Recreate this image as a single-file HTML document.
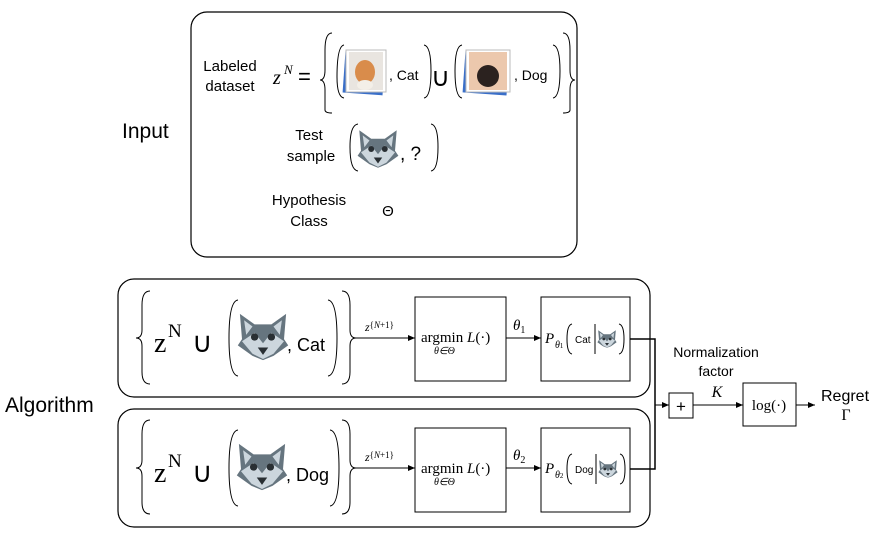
<!DOCTYPE html>
<html><head><meta charset="utf-8"><style>
html,body{margin:0;padding:0;background:#fff}
svg{display:block}
text{font-family:"Liberation Sans",sans-serif;fill:#000}
.m{font-family:"Liberation Serif",serif}
</style></head><body>
<svg width="880" height="537" viewBox="0 0 880 537" xmlns="http://www.w3.org/2000/svg">
<defs>
<marker id="ar" markerWidth="8" markerHeight="8" refX="7" refY="4" orient="auto" markerUnits="userSpaceOnUse"><path d="M0,1 L7,4 L0,7z" fill="#000"/></marker>
<g id="wolf">
<path d="M-22,-22 L-8,-12 L8,-12 L22,-22 L20,2 L24,8 L10,18 L0,22 L-10,18 L-24,8 L-20,2z" fill="#66757f"/>
<path d="M-18,-16 L-10,-10 L-16,-2z M18,-16 L10,-10 L16,-2z" fill="#ccd6dd"/>
<path d="M-20,4 L-8,-4 L0,6 L8,-4 L20,4 L10,16 L0,21 L-10,16z" fill="#ccd6dd"/>
<circle cx="-8" cy="0" r="3.5" fill="#292f33"/><circle cx="8" cy="0" r="3.5" fill="#292f33"/>
<path d="M-5,10 L5,10 L0,17z" fill="#292f33"/>
</g>
</defs>

<!-- Input -->
<rect x="191" y="12" width="386" height="245" rx="16" fill="none" stroke="#000" stroke-width="1.2"/>
<text x="122" y="138" font-size="21">Input</text>
<text x="230" y="71" font-size="15" text-anchor="middle">Labeled</text>
<text x="230" y="91" font-size="15" text-anchor="middle">dataset</text>
<text x="273" y="84" font-size="20" class="m" font-style="italic">z</text>
<text x="284" y="74" font-size="13" class="m" font-style="italic">N</text>
<text x="298" y="84" font-size="22">=</text>
<path d="M332,33 Q325,33 325,50 L325,70 Q325,80 320,80 Q325,80 325,90 L325,110 Q325,113 332,113" fill="none" stroke="#000"/>
<path d="M344,45 Q337,46 337,77 Q337,97 344,98" fill="none" stroke="#000"/>
<rect x="344" y="52" width="40" height="42" fill="#3a6fc9" transform="rotate(4 364 73)"/>
<rect x="346" y="50" width="40" height="42" fill="#fff" stroke="#bbb"/>
<rect x="349" y="52" width="34" height="38" fill="#e9e5e0"/>
<ellipse cx="365" cy="72" rx="10" ry="12" fill="#d98c4b"/>
<ellipse cx="365" cy="85" rx="8" ry="5" fill="#f3efe8"/>
<text x="389" y="80" font-size="14">, Cat</text>
<path d="M424,45 Q431,46 431,71 Q431,97 424,98" fill="none" stroke="#000"/>
<text x="431" y="86" font-size="26">∪</text>
<path d="M462,45 Q455,46 455,71 Q455,97 462,98" fill="none" stroke="#000"/>
<rect x="464" y="52" width="44" height="42" fill="#3a6fc9" transform="rotate(4 486 73)"/>
<rect x="466" y="50" width="44" height="42" fill="#fff" stroke="#bbb"/>
<rect x="469" y="52" width="38" height="38" fill="#ecc8ad"/>
<ellipse cx="488" cy="76" rx="11" ry="11" fill="#2b221f"/>
<text x="514" y="80" font-size="14">, Dog</text>
<path d="M553,45 Q560,46 560,71 Q560,97 553,98" fill="none" stroke="#000"/>
<path d="M563,33 Q570,33 570,50 L570,70 Q570,80 575,80 Q570,80 570,90 L570,110 Q570,113 563,113" fill="none" stroke="#000"/>
<text x="309" y="140" font-size="15" text-anchor="middle">Test</text>
<text x="311" y="161" font-size="15" text-anchor="middle">sample</text>
<path d="M358,124 Q350,125 350,147 Q350,170 358,171" fill="none" stroke="#000"/>
<use href="#wolf" transform="translate(378,149) scale(0.85)"/>
<text x="400" y="160" font-size="19">, ?</text>
<path d="M431,124 Q438,125 438,147 Q438,170 431,171" fill="none" stroke="#000"/>
<text x="309" y="205" font-size="15" text-anchor="middle">Hypothesis</text>
<text x="309" y="226" font-size="15" text-anchor="middle">Class</text>
<text x="388" y="216" font-size="15" text-anchor="middle">Θ</text>

<!-- Algorithm -->
<text x="5" y="412" font-size="21">Algorithm</text>
<rect x="118" y="279" width="532" height="118" rx="16" fill="none" stroke="#000" stroke-width="1.2"/>
<rect x="118" y="409" width="532" height="118" rx="16" fill="none" stroke="#000" stroke-width="1.2"/>

<g>
<path d="M150,291 Q142,291 142,305 L142,330 Q142,338 136,338 Q142,338 142,346 L142,372 Q142,384 150,384" fill="none" stroke="#000"/>
<text x="154" y="352" font-size="28" class="m">z</text>
<text x="168" y="337" font-size="19" class="m">N</text>
<text x="192" y="352" font-size="28">∪</text>
<path d="M238,300 Q229,301 229,338 Q229,375 238,376" fill="none" stroke="#000"/>
<use href="#wolf" transform="translate(263,337) scale(1.05)"/>
<text x="287" y="351" font-size="18">, Cat</text>
<path d="M328,300 Q337,301 337,338 Q337,375 328,376" fill="none" stroke="#000"/>
<path d="M342,291 Q350,291 350,305 L350,330 Q350,338 356,338 Q350,338 350,346 L350,372 Q350,384 342,384" fill="none" stroke="#000"/>
<line x1="356" y1="338" x2="415" y2="338" stroke="#000" marker-end="url(#ar)"/>
<text x="365" y="331" font-size="12" class="m" font-style="italic">z<tspan font-size="9" dy="-3" font-style="normal">{<tspan font-style="italic">N</tspan>+1}</tspan></text>
<rect x="415" y="297" width="91" height="84" fill="none" stroke="#000"/>
<text x="421" y="342" font-size="15" class="m">argmin <tspan font-style="italic">L</tspan>(·)</text>
<text x="434" y="354" font-size="10" class="m" font-style="italic">θ∈Θ</text>
<line x1="506" y1="338" x2="541" y2="338" stroke="#000" marker-end="url(#ar)"/>
<text x="513" y="330" font-size="15" class="m" font-style="italic">θ<tspan font-size="10" font-style="normal" dy="3">1</tspan></text>
<rect x="541" y="297" width="89" height="84" fill="none" stroke="#000"/>
<text x="545" y="343" font-size="15" class="m" font-style="italic">P</text>
<text x="555" y="348" font-size="10" class="m" font-style="italic">θ<tspan font-size="7" font-style="normal">1</tspan></text>
<path d="M572,324 Q567,325 567,339 Q567,353 572,354" fill="none" stroke="#000"/>
<text x="575" y="343" font-size="10">Cat</text>
<line x1="595" y1="324" x2="595" y2="354" stroke="#000"/>
<use href="#wolf" transform="translate(607,339) scale(0.4)"/>
<path d="M619,324 Q624,325 624,339 Q624,353 619,354" fill="none" stroke="#000"/>
</g>

<g>
<path d="M150,420 Q142,420 142,434 L142,460 Q142,468 136,468 Q142,468 142,476 L142,502 Q142,514 150,514" fill="none" stroke="#000"/>
<text x="154" y="482" font-size="28" class="m">z</text>
<text x="168" y="467" font-size="19" class="m">N</text>
<text x="192" y="482" font-size="28">∪</text>
<path d="M238,430 Q229,431 229,468 Q229,505 238,506" fill="none" stroke="#000"/>
<use href="#wolf" transform="translate(262,467) scale(1.05)"/>
<text x="286" y="481" font-size="18">, Dog</text>
<path d="M330,430 Q339,431 339,468 Q339,505 330,506" fill="none" stroke="#000"/>
<path d="M342,420 Q350,420 350,434 L350,460 Q350,468 356,468 Q350,468 350,476 L350,502 Q350,514 342,514" fill="none" stroke="#000"/>
<line x1="356" y1="468" x2="415" y2="468" stroke="#000" marker-end="url(#ar)"/>
<text x="365" y="461" font-size="12" class="m" font-style="italic">z<tspan font-size="9" dy="-3" font-style="normal">{<tspan font-style="italic">N</tspan>+1}</tspan></text>
<rect x="415" y="428" width="91" height="84" fill="none" stroke="#000"/>
<text x="421" y="473" font-size="15" class="m">argmin <tspan font-style="italic">L</tspan>(·)</text>
<text x="434" y="485" font-size="10" class="m" font-style="italic">θ∈Θ</text>
<line x1="506" y1="468" x2="541" y2="468" stroke="#000" marker-end="url(#ar)"/>
<text x="513" y="460" font-size="15" class="m" font-style="italic">θ<tspan font-size="10" font-style="normal" dy="3">2</tspan></text>
<rect x="541" y="428" width="89" height="84" fill="none" stroke="#000"/>
<text x="545" y="473" font-size="15" class="m" font-style="italic">P</text>
<text x="555" y="478" font-size="10" class="m" font-style="italic">θ<tspan font-size="7" font-style="normal">2</tspan></text>
<path d="M572,454 Q567,455 567,469 Q567,483 572,484" fill="none" stroke="#000"/>
<text x="575" y="473" font-size="10">Dog</text>
<line x1="596" y1="454" x2="596" y2="484" stroke="#000"/>
<use href="#wolf" transform="translate(608,469) scale(0.4)"/>
<path d="M620,454 Q625,455 625,469 Q625,483 620,484" fill="none" stroke="#000"/>
</g>

<!-- combine -->
<polyline points="630,339 655,339 655,469 630,469" fill="none" stroke="#000" stroke-width="1.5"/>
<line x1="655" y1="405" x2="669" y2="405" stroke="#000" marker-end="url(#ar)"/>
<rect x="669" y="393" width="24" height="25" fill="none" stroke="#000"/>
<text x="681" y="412" font-size="17" text-anchor="middle">+</text>
<line x1="693" y1="405" x2="743" y2="405" stroke="#000" marker-end="url(#ar)"/>
<text x="716" y="357" font-size="14" text-anchor="middle">Normalization</text>
<text x="716" y="376" font-size="14" text-anchor="middle">factor</text>
<text x="717" y="397" font-size="16" class="m" font-style="italic" text-anchor="middle">K</text>
<rect x="743" y="383" width="53" height="43" fill="none" stroke="#000"/>
<text x="769" y="410" font-size="15" class="m" text-anchor="middle">log(·)</text>
<line x1="796" y1="405" x2="815" y2="405" stroke="#000" marker-end="url(#ar)"/>
<text x="845" y="401" font-size="16" text-anchor="middle">Regret</text>
<text x="846" y="420" font-size="16" class="m" text-anchor="middle">Γ</text>
</svg>
</body></html>
